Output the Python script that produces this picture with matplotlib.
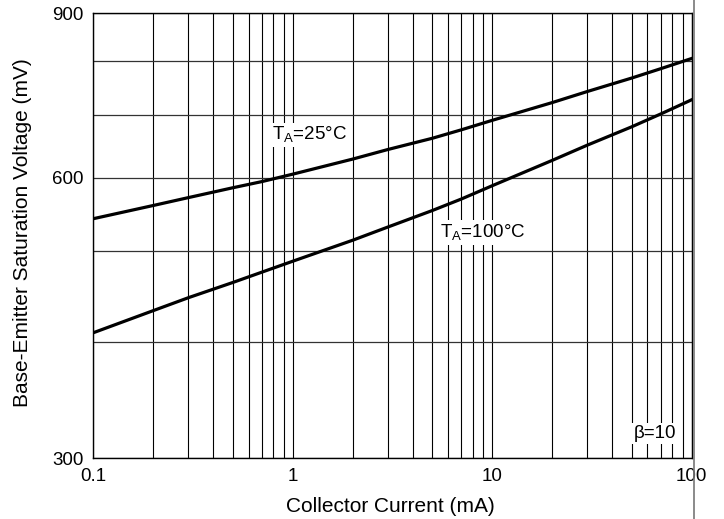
import matplotlib
matplotlib.use('Agg')
import matplotlib.pyplot as plt
from matplotlib.lines import Line2D
from matplotlib.ticker import LogLocator, NullFormatter

plt.rcParams['font.family'] = ['Liberation Sans', 'DejaVu Sans']
plt.rcParams['mathtext.fontset'] = 'custom'
plt.rcParams['mathtext.rm'] = 'Liberation Sans'

# values
current = [0.1, 0.2, 0.3, 0.5, 0.7, 1, 2, 3, 5, 7, 10, 20, 30, 50, 70, 100]   # mA
vbe_25 = [542, 560, 571, 585, 594, 605, 628, 643, 661, 675, 691, 722, 742, 767, 785, 805]   # mV
vbe_100 = [409, 432, 446, 463, 475, 488, 514, 531, 553, 569, 588, 626, 650, 680, 702, 727]  # mV

x_ticks = [0.1, 1, 10, 100]
x_tick_labels = ['0.1', '1', '10', '100']
y_ticks = [300, 600, 900]
y_tick_labels = ['300', '600', '900']
y_minor = [400, 500, 700, 800]

fig = plt.figure(figsize=(7.24, 5.19), dpi=100)
ax = fig.add_axes([0.1289, 0.117, 0.8265, 0.8574])

ax.set_xscale('log')
ax.set_yscale('log')
ax.set_xlim(0.1, 100)
ax.set_ylim(300, 900)

ax.set_xticks(x_ticks, x_tick_labels)
ax.xaxis.set_minor_locator(LogLocator(subs=range(2, 10)))
ax.xaxis.set_minor_formatter(NullFormatter())
ax.set_yticks(y_ticks, y_tick_labels)
ax.set_yticks(y_minor, minor=True)
ax.yaxis.set_minor_formatter(NullFormatter())

ax.grid(which='both', axis='x', color='black', lw=0.8)
ax.grid(which='both', axis='y', color='#333333', lw=0.9)
ax.tick_params(which='both', length=0, labelsize=13.5)
ax.tick_params(axis='y', pad=7)
ax.tick_params(axis='x', pad=7)
for s in ax.spines.values():
    s.set_linewidth(1.0)

ax.plot(current, vbe_25, color='black', lw=2.3)
ax.plot(current, vbe_100, color='black', lw=2.3)

box = dict(facecolor='white', edgecolor='none', pad=1.5)
ax.text(0.79, 666, r'T$_\mathregular{A}$=25°C', fontsize=13.5, ha='left', va='center', bbox=box)
ax.text(5.5, 524, r'T$_\mathregular{A}$=100°C', fontsize=13.5, ha='left', va='center', bbox=box)
ax.text(51, 319, 'β=10', fontsize=13.5, ha='left', va='center', bbox=box)

fig.text(23 / 724, 1 - 233 / 519, 'Base-Emitter Saturation Voltage (mV)',
         rotation=90, ha='center', va='center', fontsize=15)
fig.text(390 / 724, 1 - 506 / 519, 'Collector Current (mA)',
         ha='center', va='center', fontsize=15)

# stray vertical rule at the right edge of the original image
fig.add_artist(Line2D([693.5 / 724, 693.5 / 724], [0, 1], transform=fig.transFigure,
                      color='#777777', lw=1.2))

fig.savefig('out.png', dpi=100)
